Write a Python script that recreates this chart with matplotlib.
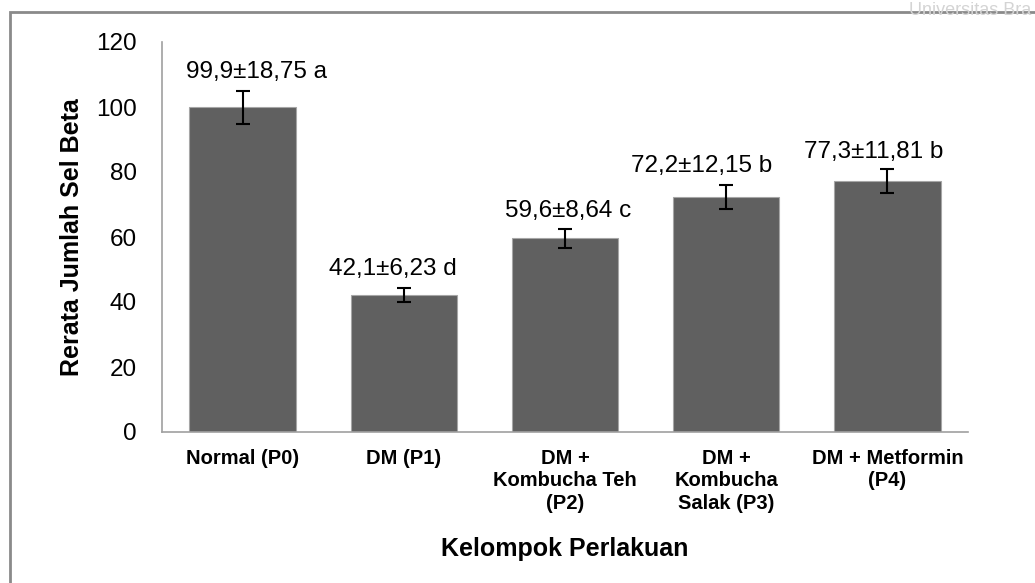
import matplotlib
matplotlib.use("Agg")
import matplotlib.pyplot as plt
from matplotlib.patches import Rectangle

plt.rcParams['font.family'] = ['Liberation Sans', 'DejaVu Sans']

# Data
categories = ["Normal (P0)", "DM (P1)", "DM +\nKombucha Teh\n(P2)",
              "DM +\nKombucha\nSalak (P3)", "DM + Metformin\n(P4)"]
means = [99.9, 42.1, 59.6, 72.2, 77.3]
sd = [18.75, 6.23, 8.64, 12.15, 11.81]
err = [5.0, 2.2, 3.0, 3.7, 3.7]
letters = ["a", "d", "c", "b", "b"]

def fmt(v, d):
    return f"{v:.{d}f}".replace(".", ",")

labels = [f"{fmt(m, 1)}±{fmt(s, 2)} {l}" for m, s, l in zip(means, sd, letters)]
# label placement relative to bar centre (points)
label_dx = [10, -8, 2, -18, -10]
label_dy = [6, 6, 5, 6, 4]

W, H = 1035, 583
fig = plt.figure(figsize=(W / 100, H / 100), dpi=100)
fig.patch.set_facecolor("white")

# faint background lettering outside the frame
fig.text(1031 / W, 1 - 2 / H, "Universitas Bra", fontsize=13,
         color="#d4d4d4", ha="right", va="top")

# chart frame
fig.patches.append(Rectangle((10 / W, -0.05), 1.2, 1 - 12 / H + 0.05,
                             transform=fig.transFigure, fill=False,
                             edgecolor="#8a8a8a", linewidth=2, zorder=0))

ax = fig.add_axes([162 / W, 1 - 432 / H, (968 - 162) / W, (432 - 42) / H])
x = list(range(len(categories)))
ax.bar(x, means, width=0.66, color="#606060", edgecolor="#a6a6a6",
       linewidth=0.8, zorder=2)
ax.errorbar(x, means, yerr=err, fmt="none", ecolor="black",
            elinewidth=1.5, capsize=5, capthick=1.5, zorder=3)

for xi, m, e, lab, dx, dy in zip(x, means, err, labels, label_dx, label_dy):
    ax.annotate(lab, xy=(xi, m + e), xytext=(dx, dy),
                textcoords="offset points", ha="center", va="bottom",
                fontsize=17.5, color="black")

ax.set_xlim(-0.5, len(categories) - 0.5)
ax.set_ylim(0, 120)
ax.set_yticks(range(0, 121, 20))
ax.set_xticks(x)
ax.set_xticklabels(categories, fontsize=14.5, fontweight="bold",
                   linespacing=1.25)
ax.tick_params(axis="y", length=0, pad=18, labelsize=17.5)
ax.tick_params(axis="x", length=0, pad=12)

for side in ["top", "right"]:
    ax.spines[side].set_visible(False)
for side in ["left", "bottom"]:
    ax.spines[side].set_color("#a0a0a0")
    ax.spines[side].set_linewidth(1.2)

ax.set_ylabel("Rerata Jumlah Sel Beta", fontsize=18, fontweight="bold")
ax.set_xlabel("Kelompok Perlakuan", fontsize=18, fontweight="bold")
ax.yaxis.set_label_coords(-0.097, 0.5)
ax.xaxis.set_label_coords(0.5, -0.27)

fig.savefig("out.png", dpi=100, facecolor="white")
